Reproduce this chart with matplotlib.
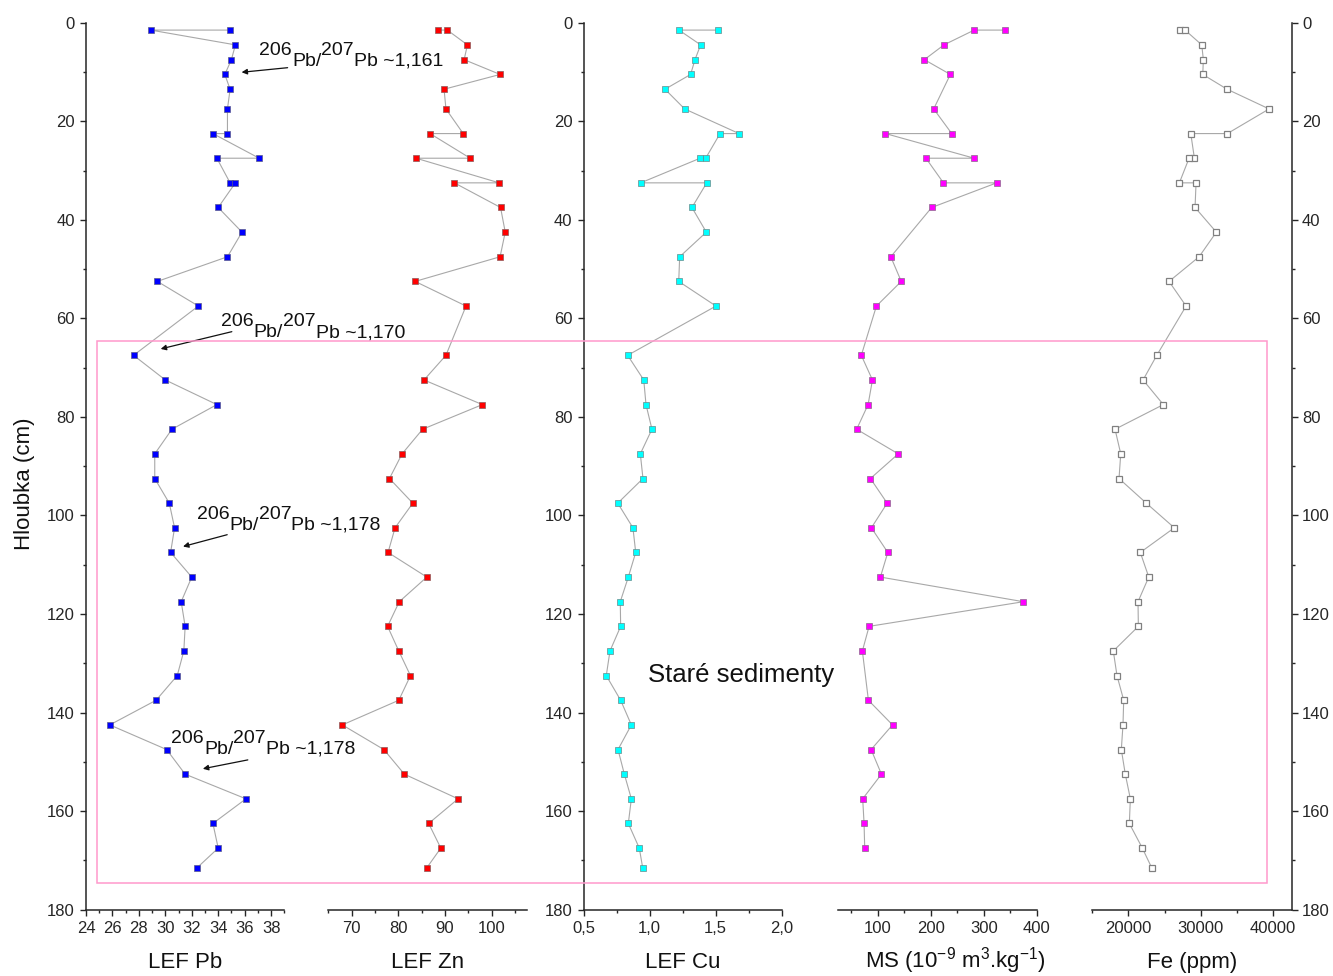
import matplotlib
matplotlib.use('Agg')
import matplotlib.pyplot as plt
import matplotlib.transforms as mtransforms
from matplotlib.patches import Rectangle
from matplotlib.ticker import MultipleLocator, FuncFormatter

plt.rcParams['font.family'] = ['Liberation Sans', 'DejaVu Sans']
plt.rcParams['mathtext.fontset'] = 'custom'
plt.rcParams['mathtext.rm'] = 'Liberation Sans'
plt.rcParams['mathtext.it'] = 'Liberation Sans:italic'
plt.rcParams['mathtext.bf'] = 'Liberation Sans:bold'

# sample depths (cm); doubled depths are duplicate samples
depth = [1.5, 1.5, 4.5, 7.5, 10.5, 13.5, 17.5, 22.5, 22.5, 27.5, 27.5, 32.5, 32.5,
         37.5, 42.5, 47.5, 52.5, 57.5, 67.5, 72.5, 77.5, 82.5, 87.5, 92.5, 97.5,
         102.5, 107.5, 112.5, 117.5, 122.5, 127.5, 132.5, 137.5, 142.5, 147.5,
         152.5, 157.5, 162.5, 167.5, 171.5]
depth_ms = [1.5, 1.5, 4.5, 7.5, 10.5, 17.5, 22.5, 22.5, 27.5, 27.5, 32.5, 32.5,
            37.5, 47.5, 52.5, 57.5, 67.5, 72.5, 77.5, 82.5, 87.5, 92.5, 97.5,
            102.5, 107.5, 112.5, 117.5, 122.5, 127.5, 137.5, 142.5, 147.5,
            152.5, 157.5, 162.5, 167.5]

lef_pb = [34.9, 28.9, 35.3, 35.0, 34.5, 34.9, 34.7, 34.7, 33.6, 37.1, 33.9, 34.9, 35.3,
          34.0, 35.8, 34.7, 29.4, 32.5, 27.6, 30.0, 33.9, 30.5, 29.2, 29.2, 30.3,
          30.7, 30.4, 32.0, 31.2, 31.5, 31.4, 30.9, 29.3, 25.8, 30.1,
          31.5, 36.1, 33.6, 34.0, 32.4]
lef_zn = [88.6, 90.5, 94.8, 94.1, 101.8, 89.8, 90.2, 93.9, 86.8, 95.4, 83.8, 101.6, 92.0,
          101.9, 102.9, 101.8, 83.6, 94.5, 90.2, 85.5, 98.0, 85.2, 80.8, 78.1, 83.1,
          79.3, 77.8, 86.1, 80.2, 77.7, 80.1, 82.6, 80.1, 68.0, 76.9,
          81.3, 92.8, 86.5, 89.1, 86.1]
lef_cu = [1.515, 1.222, 1.386, 1.343, 1.31, 1.116, 1.265, 1.677, 1.533, 1.424, 1.382, 0.932, 1.432,
          1.32, 1.429, 1.227, 1.22, 1.502, 0.833, 0.955, 0.972, 1.017, 0.929, 0.949, 0.758,
          0.873, 0.894, 0.838, 0.777, 0.780, 0.699, 0.671, 0.780, 0.861, 0.760,
          0.808, 0.861, 0.838, 0.921, 0.947]
ms = [340.8, 282, 225, 188, 237, 205.6, 239.7, 114.6, 282, 191, 224, 324.5,
      201.8, 124.6, 144.4, 97.5, 69, 90, 81.8, 60.2, 138.7, 86.2, 117.8,
      88, 119, 105, 375, 83.7, 71, 82.4, 127.9, 87.5,
      107, 71.6, 74.2, 75.4]
fe = [27150, 27850, 30160, 30380, 30300, 33670, 39490, 33710, 28640, 29140, 28400, 27060, 29370,
      29230, 32180, 29790, 25630, 27990, 23930, 22030, 24840, 18150, 18940, 18700, 22480,
      26360, 21650, 22820, 21330, 21380, 17910, 18420, 19350, 19250, 19020,
      19570, 20270, 20130, 21930, 23230]

x_labels = ['LEF Pb', 'LEF Zn', 'LEF Cu', r'MS (10$^{-9}$ m$^{3}$.kg$^{-1}$)', 'Fe (ppm)']
iso_notes = ['1,161', '1,170', '1,178', '1,178']

W, H = 1333, 976
fig = plt.figure(figsize=(W / 100, H / 100), dpi=100)

# panel geometry in pixels
top_px, bot_px = 22.7, 909.7
lefts = [86, 328.3, 583.7, 838, 1092.3]
widths = [198.3, 198.4, 198, 198.7, 200]

ink = '#262626'
line_c = '#a8a8a8'

panels = [
    dict(x=lef_pb, y=depth, lim=(24, 39), major=2, minor=1, fc='#0000ff', ec='#5a5a8a'),
    dict(x=lef_zn, y=depth, lim=(65, 107.5), major=10, minor=5, fc='#ff0000', ec='#8a5a5a'),
    dict(x=lef_cu, y=depth, lim=(0.5, 2.0), major=0.5, minor=0.25, fc='#00ffff', ec='#6a8a8a'),
    dict(x=ms, y=depth_ms, lim=(25, 400), major=100, minor=50, fc='#ff00ff', ec='#8a6a8a'),
    dict(x=fe, y=depth, lim=(15000, 42700), major=10000, minor=5000, fc='white', ec='#808080'),
]

axes = []
for i, p in enumerate(panels):
    ax = fig.add_axes([lefts[i] / W, 1 - bot_px / H, widths[i] / W, (bot_px - top_px) / H])
    ax.plot(p['x'], p['y'], '-', color=line_c, lw=0.8, zorder=2)
    ax.plot(p['x'], p['y'], 's', ms=4.6, mfc=p['fc'], mec=p['ec'],
            mew=0.9 if i == 4 else 0.5, zorder=3)
    ax.set_xlim(*p['lim'])
    ax.set_ylim(180, 0)
    ax.xaxis.set_major_locator(MultipleLocator(p['major']))
    ax.xaxis.set_minor_locator(MultipleLocator(p['minor']))
    ax.yaxis.set_major_locator(MultipleLocator(20))
    ax.yaxis.set_minor_locator(MultipleLocator(10))
    for s in ax.spines.values():
        s.set_color(ink)
        s.set_linewidth(1.1)
    ax.spines['top'].set_visible(False)
    ax.spines['right'].set_visible(False)
    ax.tick_params(which='both', direction='out', colors=ink, labelsize=12, width=1.0)
    ax.tick_params(which='major', length=4.5, pad=3.5)
    ax.tick_params(which='minor', length=2.5)
    ax.patch.set_alpha(0)
    ax.set_xlabel(x_labels[i], fontsize=16, color='#111111')
    ax.xaxis.set_label_coords(0.5, -(968 - bot_px) / (bot_px - top_px))
    ax.xaxis.label.set_va('baseline')
    axes.append(ax)

ax_pb, ax_zn, ax_cu, ax_ms, ax_fe = axes

# y axes: left on Pb and Cu, right on Fe, none on Zn and MS
for ax in (ax_zn, ax_ms, ax_fe):
    ax.spines['left'].set_visible(False)
    ax.tick_params(axis='y', which='both', left=False, labelleft=False)
ax_fe.spines['right'].set_visible(True)
ax_fe.tick_params(axis='y', which='both', right=True, labelright=True, pad=2.5)

ax_cu.xaxis.set_major_formatter(FuncFormatter(lambda v, p: f'{v:.1f}'.replace('.', ',')))
ax_ms.xaxis.set_label_coords((955.5 - lefts[3]) / widths[3], -(968 - bot_px) / (bot_px - top_px))

ax_pb.set_ylabel('Hloubka (cm)', fontsize=16, color='#111111')
ax_pb.yaxis.set_label_coords((35 - lefts[0]) / widths[0], 1 - (484 - top_px) / (bot_px - top_px))


def iso_label(ax, x, y, ratio, size=14, rise=7.7):
    # 206Pb/207Pb with full-size raised mass numbers
    pieces = [('206', rise), ('Pb/', 0), ('207', rise), ('Pb ~' + ratio, 0)]
    prev, prev_rise = None, 0
    for s, r in pieces:
        if prev is None:
            prev = ax.annotate(s, xy=(x, y), xycoords='data', xytext=(0, r),
                               textcoords='offset points', va='baseline', ha='left',
                               fontsize=size, color='#111111', annotation_clip=False)
        else:
            prev = ax.annotate(s, xy=(1, 0), xycoords=prev, xytext=(0, r - prev_rise),
                               textcoords='offset points', va='bottom', ha='left',
                               fontsize=size, color='#111111')
        prev_rise = r


def arrow(ax, head, tail):
    ax.annotate('', xy=head, xytext=tail, xycoords='data', annotation_clip=False,
                arrowprops=dict(arrowstyle='-|>', color='#111111', lw=0.9,
                                mutation_scale=8, shrinkA=0, shrinkB=0))


# labels placed in LEF Pb units / depth
label_pos = [(37.12, 8.75), (34.23, 63.8), (32.39, 102.9), (30.46, 148.4)]
arrow_pos = [((35.77, 10.06), (39.25, 9.13)),
             ((29.65, 66.2), (35.03, 62.7)),
             ((31.34, 106.3), (34.68, 103.9)),
             ((32.84, 151.4), (36.24, 149.6))]
for (lx, ly), ratio, (head, tail) in zip(label_pos, iso_notes, arrow_pos):
    iso_label(ax_pb, lx, ly, ratio)
    arrow(ax_pb, head, tail)

ax_cu.text(1.694, 133.7, 'Staré sedimenty', fontsize=18.5, color='#111111',
           ha='center', va='baseline')

# frame around the older sediment section
trans = mtransforms.blended_transform_factory(fig.transFigure, ax_pb.transData)
fig.patches.append(Rectangle((97 / W, 64.5), (1267.3 - 97) / W, 110.0, transform=trans,
                             fill=False, ec='#ff99cc', lw=1.1, zorder=1))

fig.savefig('out.png', dpi=100, facecolor='white')
